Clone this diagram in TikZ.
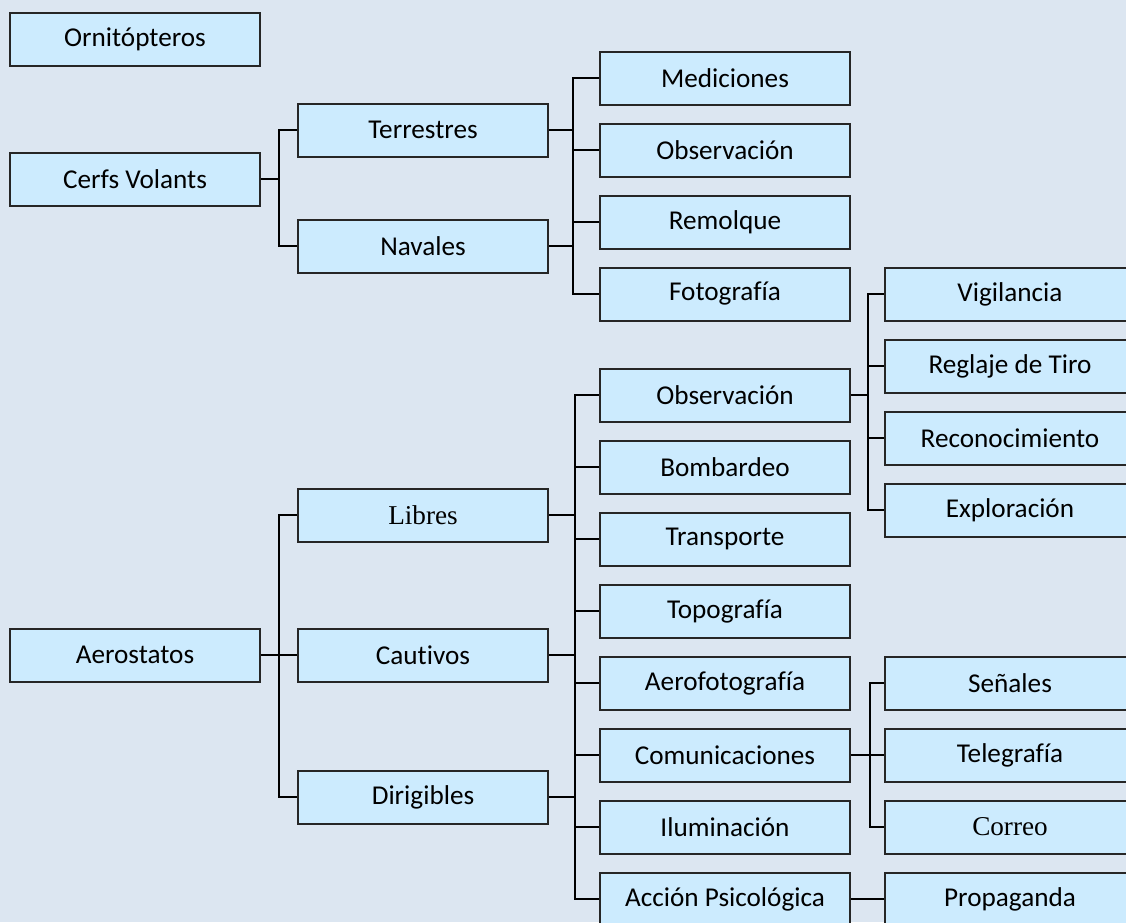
\documentclass[tikz,border=0pt]{standalone}
\usepackage{fontspec}
\setmainfont{Carlito}[Ligatures=NoCommon]
\newfontfamily\timesface{Liberation Serif}
\usepackage{tikz}
\usetikzlibrary{positioning,calc}
\usepackage{xcolor}
\definecolor{fback}{HTML}{DCE6F1}
\definecolor{fbox}{HTML}{CCEBFE}

\begin{document}
\begin{tikzpicture}[x=0.75pt, y=-0.75pt,
  font=\fontsize{20.4}{23}\selectfont,
  box/.style={draw=black!85, line width=1.5pt, fill=fbox, minimum width=187.5pt,
    minimum height=39.75pt, inner sep=0pt},
  link/.style={draw=black, line width=1.6pt}]
\useasboundingbox (0,0) rectangle (1126,922);
\fill[fback] (0,0) rectangle (1126,922);
\begin{scope}
\clip (0,0) rectangle (1126,922);
% ---------- first level ----------
\node[box] (orn)   at (135,39)  {Ornitópteros};
\node[box] (cerfs) at (135,179) {Cerfs Volants};
\node[box] (aero)  at (135,655) {Aerostatos};
% ---------- cerfs volants ----------
\node[box] (terr) at (423,130) {Terrestres};
\node[box] (nav)  at (423,246) {Navales};
\node[box] (med)  at (725,78)  {Mediciones};
\node[box] (obsa) at (725,150) {Observación};
\node[box] (rem)  at (725,222) {Remolque};
\node[box] (foto) at (725,294) {Fotografía};
\coordinate (b1) at (279,179);
\coordinate (b2) at (573,186);
\draw[link] (cerfs.east) -- (b1);
\draw[link] (terr.west) -| (b1) |- (nav.west);
\draw[link] (terr.east) -- (terr.east -| b2);
\draw[link] (nav.east) -- (nav.east -| b2);
\foreach \n in {med,obsa,rem,foto}{\draw[link] (b2) |- (\n.west);}
% ---------- aerostatos ----------
\node[box] (lib)  at (423,515) {\timesface Libres};
\node[box] (caut) at (423,655) {Cautivos};
\node[box] (dir)  at (423,797) {Dirigibles};
\node[box] (obsb)   at (725,395) {Observación};
\node[box] (bomb)   at (725,467) {Bombardeo};
\node[box] (trans)  at (725,539) {Transporte};
\node[box] (topo)   at (725,611) {Topografía};
\node[box] (afoto)  at (725,683) {Aerofotografía};
\node[box] (comun)  at (725,755) {Comunicaciones};
\node[box] (ilum)   at (725,827) {Iluminación};
\node[box] (accion) at (725,899) {Acción Psicológica};
\coordinate (b3) at (279,655);
\coordinate (b4) at (575,655);
\draw[link] (aero.east) -- (b3);
\foreach \n in {lib,caut,dir}{\draw[link] (b3) |- (\n.west);}
\foreach \n in {lib,caut,dir}{\draw[link] (\n.east) -- (\n.east -| b4);}
\foreach \n in {obsb,bomb,trans,topo,afoto,comun,ilum,accion}{\draw[link] (b4) |- (\n.west);}
% ---------- third level ----------
\node[box] (vig)   at (1010,294) {Vigilancia};
\node[box] (regl)  at (1010,366) {Reglaje de Tiro};
\node[box] (recon) at (1010,438) {Reconocimiento};
\node[box] (expl)  at (1010,510) {Exploración};
\node[box] (senal)  at (1010,683) {Señales};
\node[box] (teleg)  at (1010,755) {Telegrafía};
\node[box] (correo) at (1010,827) {\timesface Correo};
\node[box] (prop)   at (1010,899) {Propaganda};
\coordinate (b5) at (868,395);
\coordinate (b6) at (870,755);
\draw[link] (obsb.east) -- (b5);
\foreach \n in {vig,regl,recon,expl}{\draw[link] (b5) |- (\n.west);}
\draw[link] (comun.east) -- (b6);
\foreach \n in {senal,teleg,correo}{\draw[link] (b6) |- (\n.west);}
\draw[link] (accion.east) -- (prop.west);
\end{scope}
\end{tikzpicture}
\end{document}
